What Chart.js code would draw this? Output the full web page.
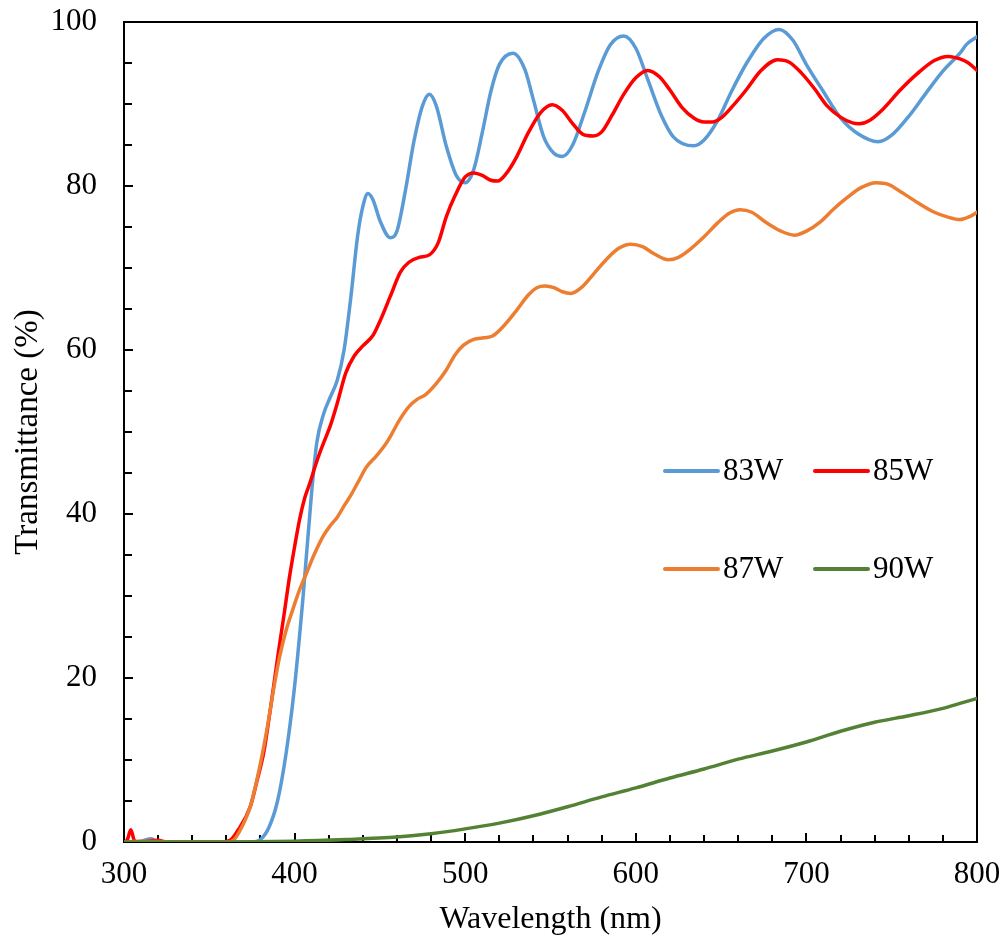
<!DOCTYPE html>
<html>
<head>
<meta charset="utf-8">
<script src="https://cdn.jsdelivr.net/npm/chart.js@4/dist/chart.umd.min.js"></script>
<style>
  html, body { margin: 0; padding: 0; background: #fff; }
  #wrap { width: 1008px; height: 945px; }
</style>
</head>
<body>
<div id="wrap"><canvas id="c" width="1008" height="945"></canvas></div>
<script>
// Transmittance spectra (%) versus wavelength (nm) for four sputtering powers
const wl83 = [300,310,316,320,340,360,375,380,385,390,395,400,405,410,413,417,421,425,429,433,437,440,443,446,450,456,460,465,470,475,479,483,489,495,500,505,510,515,520,528,535,540,546,552,557,563,570,578,585,593,600,607,615,622,634,640,648,656,665,675,684,692,700,710,720,730,742,750,760,770,780,790,794,800];
const t83  = [0,0.1,0.4,0,0,0,0,0.3,1.8,5,10.8,19,30,42.7,48.7,52.2,54.3,56.3,60,66.5,74,77.5,79.1,78.3,75.8,73.7,74.5,79.5,85.5,89.8,91.2,89.8,84.8,81.2,80.4,82,86.5,91.5,94.8,96.2,94.2,90.5,86,84,83.6,85,89,94,97.2,98.3,96.8,93,88.6,86,84.9,85.6,88,91.5,95,98,99.1,97.8,94.8,91.5,88.3,86.4,85.4,86.2,88.5,91.3,94,96.2,97.3,98.2];

const wl85 = [300,302,304,306,308,320,325,340,355,362,367,374,378,382,386,390,394,397,400,403,406,409,412,415,418,421,425,430,435,440,446,450,456,462,467,473,479,484,489,494,500,505,510,515,519,524,530,537,544,551,557,563,569,575,580,586,593,600,607,614,620,627,634,640,645,650,657,665,673,683,690,697,705,712,720,727,731,737,745,755,765,775,783,790,795,800];
const t85  = [0,0.3,1.5,0.2,0,0.2,0,0,0,0.2,1.5,4.3,7.5,11,16.5,22.4,28,32.3,36,39.4,42,43.8,45.8,47.6,49.2,50.8,53.5,57.2,59.3,60.5,61.8,63.5,66.5,69.5,70.7,71.3,71.6,73,76.3,78.8,81.1,81.6,81.3,80.7,80.6,81.5,83.5,86.5,88.9,89.9,89.2,87.6,86.3,86.1,86.6,88.6,91.2,93.2,94.1,93.3,91.7,89.6,88.3,87.8,87.8,88.3,89.8,91.8,94,95.4,95.1,93.8,91.8,89.8,88.4,87.7,87.6,88,89.4,91.7,93.7,95.3,95.8,95.5,95,94.1];

const wl87 = [300,310,330,350,360,364,369,374,379,384,388,391,395,399,403,407,412,417,421,425,429,433,438,442,448,453,456,461,467,472,477,483,489,494,499,505,511,516,522,530,537,542,547,552,557,562,568,575,583,590,597,604,611,619,625,632,640,648,655,661,668,676,685,693,700,708,716,724,732,741,748,756,765,775,783,790,796,800];
const t87  = [0,0.1,0,0,0,0.2,1.8,4.3,8.6,14,19,22.4,25.8,28.4,30.8,32.8,35.3,37.4,38.6,39.6,41,42.3,44.2,45.7,47.1,48.4,49.4,51.3,53.1,54,54.6,55.9,57.6,59.4,60.6,61.3,61.5,61.7,62.8,64.8,66.7,67.6,67.8,67.6,67.1,66.9,67.6,69.2,71.1,72.4,72.9,72.6,71.7,71,71.3,72.3,73.8,75.5,76.7,77.1,76.8,75.6,74.5,74,74.5,75.6,77.2,78.6,79.8,80.4,80.2,79.2,78,76.8,76.2,75.9,76.3,76.8];

const wl90 = [300,350,400,430,460,480,500,520,540,560,580,600,620,640,660,680,700,720,740,760,780,790,800];
const t90  = [0,0,0.1,0.3,0.6,1.0,1.6,2.3,3.2,4.3,5.5,6.6,7.8,8.9,10.1,11.1,12.2,13.5,14.6,15.4,16.3,16.9,17.5];

const seriesLabels = ['83W', '85W', '87W', '90W'];
const seriesColors = ['#5B9BD5', '#FF0000', '#ED7D31', '#548235'];
const seriesX = [wl83, wl85, wl87, wl90];
const seriesY = [t83, t85, t87, t90];

// Axis ranges and tick spacing
const X_MIN = 300, X_MAX = 800, X_MAJOR = 100, X_MINOR = 20;
const Y_MIN = 0, Y_MAX = 100, Y_MAJOR = 20, Y_MINOR = 5;

const FONT = "'Liberation Serif', 'Times New Roman', serif";

const datasets = seriesLabels.map((label, i) => ({
  label,
  data: seriesX[i].map((x, j) => ({ x, y: seriesY[i][j] })),
  borderColor: seriesColors[i],
  backgroundColor: seriesColors[i],
  borderWidth: 3.5,
  pointRadius: 0,
  fill: false,
  cubicInterpolationMode: 'monotone',
  borderCapStyle: 'round',
  borderJoinStyle: 'round',
  order: seriesLabels.length - i   // later series sit on top
}));

// Inward tick marks plus the top/right frame lines
const frameTicks = {
  id: 'frameTicks',
  beforeDatasetsDraw(chart) {
    const { ctx, chartArea: a, scales: { x, y } } = chart;
    ctx.save();
    ctx.strokeStyle = '#000';
    ctx.lineWidth = 2;
    ctx.beginPath();
    for (let v = Y_MIN + Y_MINOR; v < Y_MAX; v += Y_MINOR) {
      const py = Math.round(y.getPixelForValue(v));
      const len = (v % Y_MAJOR === 0) ? 9 : 8;
      ctx.moveTo(a.left, py);
      ctx.lineTo(a.left + len, py);
    }
    for (let v = X_MIN + X_MINOR; v < X_MAX; v += X_MINOR) {
      const px = Math.round(x.getPixelForValue(v));
      const len = (v % X_MAJOR === 0) ? 9 : 7;
      ctx.moveTo(px, a.bottom);
      ctx.lineTo(px, a.bottom - len);
    }
    ctx.stroke();
    ctx.beginPath();
    ctx.moveTo(a.left, a.top);
    ctx.lineTo(a.right, a.top);
    ctx.lineTo(a.right, a.bottom);
    ctx.stroke();
    ctx.restore();
  }
};

// Two-column legend placed inside the plot
const gridLegend = {
  id: 'gridLegend',
  afterDatasetsDraw(chart, args, opts) {
    const { ctx } = chart;
    ctx.save();
    ctx.font = opts.fontSize + 'px ' + FONT;
    ctx.textBaseline = 'middle';
    ctx.textAlign = 'left';
    chart.data.datasets.forEach((ds, i) => {
      const col = i % 2, row = Math.floor(i / 2);
      const x0 = opts.cols[col], yy = opts.rows[row];
      ctx.strokeStyle = ds.borderColor;
      ctx.lineWidth = 4;
      ctx.lineCap = 'round';
      ctx.beginPath();
      ctx.moveTo(x0, yy);
      ctx.lineTo(x0 + opts.sample, yy);
      ctx.stroke();
      ctx.fillStyle = '#000';
      ctx.fillText(ds.label, x0 + opts.sample + 5, yy + 1);
    });
    ctx.restore();
  }
};

new Chart(document.getElementById('c'), {
  type: 'line',
  data: { datasets },
  plugins: [frameTicks, gridLegend],
  options: {
    responsive: false,
    animation: false,
    events: [],
    layout: { padding: { left: 0, right: 31, top: 22, bottom: 0 } },
    plugins: {
      legend: { display: false },
      tooltip: { enabled: false },
      gridLegend: { cols: [665, 815], rows: [471, 569], sample: 53, fontSize: 31 }
    },
    scales: {
      x: {
        type: 'linear',
        min: X_MIN, max: X_MAX,
        afterFit(s) { s.height = 103; s.paddingLeft = 0; s.paddingRight = 0; },
        grid: { display: false, drawTicks: false },
        border: { display: true, color: '#000', width: 2 },
        ticks: {
          stepSize: X_MAJOR, autoSkip: false, padding: 14,
          color: '#000', font: { family: FONT, size: 31 }
        },
        title: {
          display: true, text: 'Wavelength (nm)', color: '#000',
          font: { family: FONT, size: 32 }, padding: { top: 0, bottom: 6 }
        }
      },
      y: {
        type: 'linear',
        min: Y_MIN, max: Y_MAX,
        afterFit(s) { s.width = 124; s.paddingTop = 0; s.paddingBottom = 0; },
        grid: { display: false, drawTicks: false },
        border: { display: true, color: '#000', width: 2 },
        ticks: {
          stepSize: Y_MAJOR, autoSkip: false, padding: 27,
          color: '#000', font: { family: FONT, size: 31 }
        },
        title: {
          display: true, text: 'Transmittance (%)', color: '#000',
          font: { family: FONT, size: 33 }, padding: { top: 9, bottom: 0 }
        }
      }
    }
  }
});
</script>
</body>
</html>
